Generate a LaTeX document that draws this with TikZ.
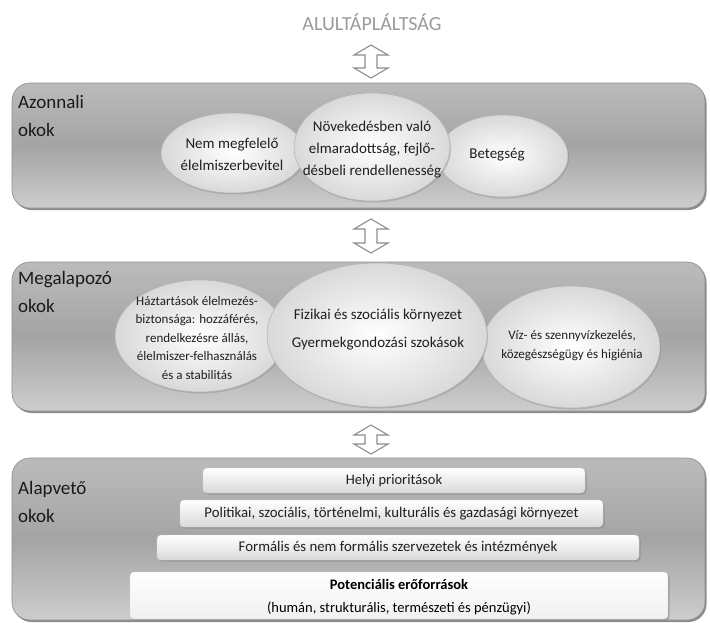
\documentclass[tikz,border=0pt]{standalone}
\usepackage{fontspec}
\setmainfont{Carlito}
\usetikzlibrary{shapes.geometric,shadows,calc}
\definecolor{panelT}{HTML}{BBBBBB}
\definecolor{panelM}{HTML}{A4A4A4}
\definecolor{panelB}{HTML}{CDCDCD}
\definecolor{txt}{HTML}{1F1F1F}
\definecolor{lbl}{HTML}{1A1A1A}
\definecolor{ttl}{HTML}{9A9A9A}
\definecolor{arr}{HTML}{8E8E8E}
\newcommand\dblarr[2]{\draw[arrowsty] (#1) -- ($(#1)+(17,10)$) -- ($(#1)+(6,10)$) -- ($(#2)+(6,-10)$) -- ($(#2)+(17,-10)$) -- (#2) -- ($(#2)+(-17,-10)$) -- ($(#2)+(-6,-10)$) -- ($(#1)+(-6,10)$) -- ($(#1)+(-17,10)$) -- cycle;}
\tikzset{
  panel/.style={draw=black!45, line width=0.6pt, rounded corners=18pt,
    top color=panelT, bottom color=panelB, middle color=panelM,
    drop shadow={shadow xshift=1.5pt, shadow yshift=-2pt, opacity=0.6, fill=black!75}},
  ell/.style={ellipse, draw=black!30, line width=0.5pt, inner sep=0pt,
    inner color=white, outer color=black!15,
    drop shadow={shadow xshift=1pt, shadow yshift=-1.5pt, opacity=0.35}},
  etext/.style={text=txt, align=center, inner sep=0pt},
  bar/.style={rounded corners=4pt, draw=black!15, line width=0.4pt,
    top color=white, bottom color=black!15,
    drop shadow={shadow xshift=1.5pt, shadow yshift=-1.5pt, opacity=0.5}},
  lblsty/.style={text=lbl, align=left, anchor=north west, inner sep=0pt,
    font=\fontsize{19}{28}\selectfont},
  arrowsty/.style={draw=arr, fill=white, line width=1.1pt, line join=miter},
}
\begin{document}
\begin{tikzpicture}[x=1pt,y=-1pt]
\useasboundingbox (0,0) rectangle (710,622);
\fill[white] (0,0) rectangle (710,622);

% title
\node[text=ttl, font=\fontsize{20}{24}\selectfont, inner sep=0pt] (title) at (372,22) {ALULTÁPLÁLTSÁG};

% panels
\node[panel, minimum width=693pt, minimum height=125pt] (p1) at (358.5,145.5) {};
\node[panel, minimum width=693pt, minimum height=149pt] (p2) at (358.5,336.5) {};
\node[panel, minimum width=693pt, minimum height=162pt] (p3) at (358.5,539) {};

% arrows
\coordinate (a1t) at (371,45);  \coordinate (a1b) at (371,78);
\coordinate (a2t) at (371,219); \coordinate (a2b) at (371,253);
\coordinate (a3t) at (371,425); \coordinate (a3b) at (371,454);
\dblarr{a1t}{a1b}
\dblarr{a2t}{a2b}
\dblarr{a3t}{a3b}

% labels
\node[lblsty] (l1) at (18,95) {Azonnali\\okok};
\node[lblsty] (l2) at (18,271) {Megalapozó\\okok};
\node[lblsty] (l3) at (18,481) {Alapvető\\okok};

% panel 1 ellipses
\node[ell, minimum width=144pt, minimum height=80pt] (e1) at (233,153) {};
\node[ell, minimum width=130pt, minimum height=82pt] (e3) at (503,156) {};
\node[ell, minimum width=156pt, minimum height=108pt] (e2) at (372,147) {};
\node[etext, font=\fontsize{15}{22}\selectfont] (e1t) at (232,154) {Nem megfelelő\\élelmiszerbevitel};
\node[etext, font=\fontsize{15}{22}\selectfont] (e2t) at (372,150) {Növekedésben való\\elmaradottság, fejlő-\\désbeli rendellenesség};
\node[etext, font=\fontsize{15}{22}\selectfont] (e3t) at (497,155) {Betegség};

% panel 2 ellipses
\node[ell, minimum width=170pt, minimum height=112pt] (e4) at (200,336) {};
\node[ell, minimum width=178pt, minimum height=122pt] (e6) at (571,347) {};
\node[ell, minimum width=220pt, minimum height=144pt] (e5) at (377,335) {};
\node[etext, font=\fontsize{13}{18.5}\selectfont] (e4t) at (197,338) {Háztartások élelmezés-\\biztonsága: hozzáférés,\\rendelkezésre állás,\\élelmiszer-felhasználás\\és a stabilitás};
\node[etext, font=\fontsize{15}{28}\selectfont] (e5t) at (378,330) {Fizikai és szociális környezet\\Gyermekgondozási szokások};
\node[etext, font=\fontsize{13}{19}\selectfont] (e6t) at (572,346) {Víz- és szennyvízkezelés,\\közegészségügy és higiénia};

% panel 3 bars
\node[bar, minimum width=382pt, minimum height=25pt] (b1) at (394,480.5) {};
\node[bar, minimum width=423pt, minimum height=27pt] (b2) at (391.5,513.5) {};
\node[bar, minimum width=482pt, minimum height=25pt] (b3) at (398,547.5) {};
\node[bar, minimum width=538pt, minimum height=47pt, bottom color=black!6] (b4) at (399,595.5) {};
\node[etext, font=\fontsize{14.5}{16}\selectfont] (b1t) at (b1) {Helyi prioritások};
\node[etext, font=\fontsize{14.8}{16}\selectfont] (b2t) at (b2) {Politikai, szociális, történelmi, kulturális és gazdasági környezet};
\node[etext, font=\fontsize{14.8}{16}\selectfont] (b3t) at (b3) {Formális és nem formális szervezetek és intézmények};
\node[etext, font=\fontsize{14.5}{23}\selectfont, text=black] (b4t) at (399,597) {\textbf{Potenciális erőforrások}\\(humán, strukturális, természeti és pénzügyi)};
\end{tikzpicture}
\end{document}
